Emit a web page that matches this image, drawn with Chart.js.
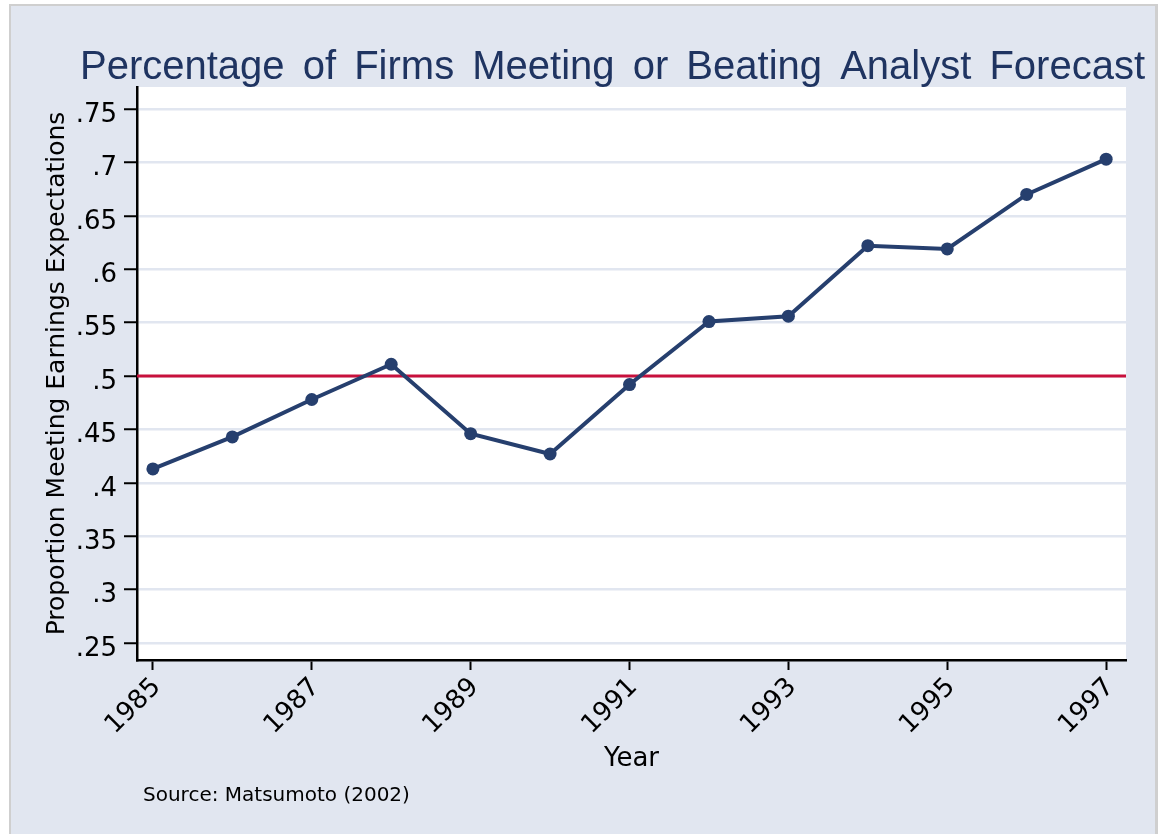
<!DOCTYPE html>
<html>
<head>
    <title>Percentage of Firms Meeting or Beating Analyst Forecast</title>
    <script src="https://cdn.jsdelivr.net/npm/chart.js"></script>
    <style>
        body { margin: 0; background: #fff; }
        canvas { display: block; }
    </style>
</head>
<body>

    <canvas id="myChart" width="1158" height="834"></canvas>

    <script>
        // data
        var years = [1985, 1986, 1987, 1988, 1989, 1990, 1991, 1992, 1993, 1994, 1995, 1996, 1997];
        var shareMeeting = [0.413, 0.443, 0.478, 0.511, 0.446, 0.427, 0.492, 0.551, 0.556, 0.622, 0.619, 0.670, 0.703];
        var yearTicks = [1985, 1987, 1989, 1991, 1993, 1995, 1997];
        var shareTicks = [0.25, 0.3, 0.35, 0.4, 0.45, 0.5, 0.55, 0.6, 0.65, 0.7, 0.75];
        var refLevel = 0.5;

        var navy = '#263f6e';
        var panel = '#e1e6f0';

        var ctx = document.getElementById('myChart').getContext('2d');

        var backgroundPlugin = {
            id: 'stataBackground',
            beforeDraw(chart) {
                var c = chart.ctx;
                var a = chart.chartArea;
                c.save();
                c.fillStyle = '#ffffff';
                c.fillRect(0, 0, chart.width, chart.height);
                c.fillStyle = '#cfcfcf';
                c.fillRect(9, 4, chart.width - 9, chart.height - 4);
                c.fillStyle = panel;
                c.fillRect(11, 6, chart.width - 14, chart.height - 6);
                c.fillStyle = '#ffffff';
                c.fillRect(a.left, a.top, a.right - a.left, a.bottom - a.top);
                c.restore();
            },
            beforeDatasetsDraw(chart) {
                // horizontal reference line at .5
                var c = chart.ctx;
                var a = chart.chartArea;
                var y = chart.scales.y.getPixelForValue(refLevel);
                c.save();
                c.strokeStyle = '#c8103c';
                c.lineWidth = 3;
                c.beginPath();
                c.moveTo(a.left, y);
                c.lineTo(a.right, y);
                c.stroke();
                c.restore();
            },
            afterDraw(chart) {
                var c = chart.ctx;
                c.save();
                c.fillStyle = '#1f3461';
                c.font = '40px "Liberation Sans"';
                c.textBaseline = 'alphabetic';
                c.wordSpacing = '7px';
                c.fillText('Percentage of Firms Meeting or Beating Analyst Forecast', 80, 79);
                c.wordSpacing = '0px';
                c.fillStyle = '#000';
                c.font = '20px "DejaVu Sans"';
                c.fillText('Source: Matsumoto (2002)', 143, 801);
                c.restore();
            }
        };

        var myChart = new Chart(ctx, {
            type: 'line',
            data: {
                datasets: [{
                    label: 'Proportion',
                    data: years.map(function (yr, i) { return { x: yr, y: shareMeeting[i] }; }),
                    borderColor: navy,
                    backgroundColor: navy,
                    borderWidth: 4,
                    pointRadius: 6.5,
                    pointBackgroundColor: navy,
                    pointBorderWidth: 0,
                    tension: 0,
                    fill: false
                }]
            },
            options: {
                responsive: false,
                animation: false,
                layout: {
                    padding: { left: 0, top: 87, right: 32, bottom: 0 }
                },
                plugins: {
                    legend: { display: false },
                    tooltip: { enabled: false }
                },
                scales: {
                    x: {
                        type: 'linear',
                        min: 1984.8,
                        max: 1997.25,
                        afterBuildTicks(scale) {
                            scale.ticks = yearTicks.map(function (v) { return { value: v }; });
                        },
                        afterFit(scale) {
                            scale.height = 174;
                        },
                        ticks: {
                            minRotation: 45,
                            maxRotation: 45,
                            padding: 2,
                            labelOffset: 4,
                            color: '#000',
                            font: { family: 'DejaVu Sans', size: 26 },
                            callback: function (v) { return String(v); }
                        },
                        grid: {
                            drawOnChartArea: false,
                            tickLength: 10,
                            tickColor: '#000',
                            tickWidth: 2
                        },
                        border: { display: true, color: '#000', width: 2.5 },
                        title: {
                            display: true,
                            text: 'Year',
                            color: '#000',
                            font: { family: 'DejaVu Sans', size: 26 },
                            padding: { top: 0, bottom: 59 }
                        }
                    },
                    y: {
                        min: 0.2341,
                        max: 0.7706,
                        afterBuildTicks(scale) {
                            scale.ticks = shareTicks.map(function (v) { return { value: v }; });
                        },
                        afterFit(scale) {
                            scale.width = 137;
                        },
                        ticks: {
                            padding: 7,
                            labelOffset: 6,
                            color: '#000',
                            font: { family: 'DejaVu Sans', size: 26 },
                            callback: function (v) {
                                return String(Math.round(v * 100) / 100).replace(/^0/, '');
                            }
                        },
                        grid: {
                            color: panel,
                            lineWidth: 2.5,
                            tickLength: 13,
                            tickColor: '#000',
                            tickWidth: 2
                        },
                        border: { display: true, color: '#000', width: 2.5 },
                        title: {
                            display: true,
                            text: 'Proportion Meeting Earnings Expectations',
                            color: '#000',
                            font: { family: 'DejaVu Sans', size: 25 },
                            padding: { top: 42, bottom: 0 }
                        }
                    }
                }
            },
            plugins: [backgroundPlugin]
        });
    </script>

</body>
</html>
